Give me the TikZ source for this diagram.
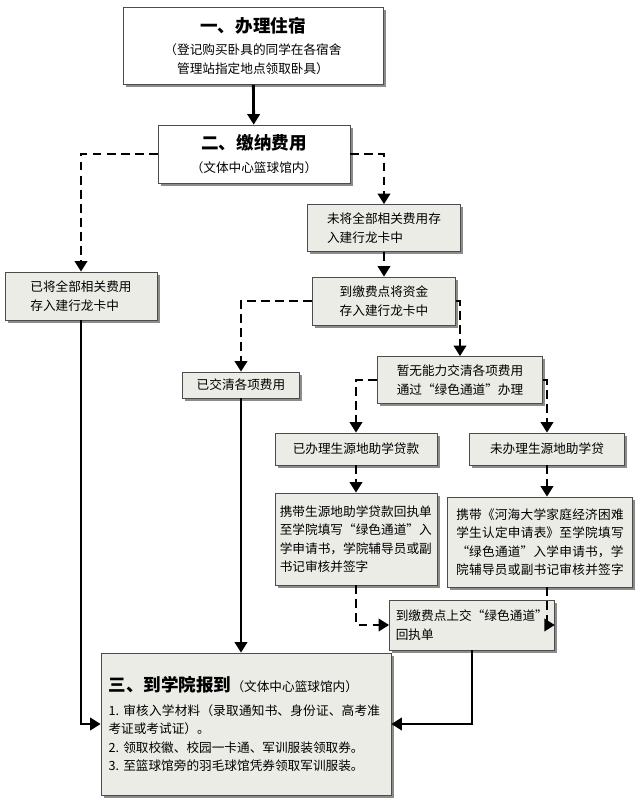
\documentclass[tikz,border=0pt]{standalone}
\usepackage{fontspec}
\setmainfont{Noto Sans CJK SC}
\XeTeXlinebreaklocale "zh"
\XeTeXlinebreakskip=0pt plus 1pt
\usetikzlibrary{arrows.meta, shadows}
\definecolor{boxgray}{HTML}{ECECE6}

\begin{document}
\begin{tikzpicture}[x=0.02cm, y=-0.02cm, font=\fontsize{7.2}{10.5}\selectfont,
	box/.style={draw=black!70, fill=boxgray, inner sep=2pt, align=center,
		drop shadow={shadow xshift=1.5pt, shadow yshift=-1.5pt, fill=black!45, opacity=1}},
	whitebox/.style={box, fill=white},
	flow/.style={-{Triangle[width=7pt,length=6pt]}, line width=1.6pt},
	dflow/.style={flow, dash pattern=on 5pt off 3pt}]

	\useasboundingbox (0,0) rectangle (640,809);

	\node [whitebox, minimum width=5.2cm, minimum height=1.54cm] (Stay) at (253,46)
		{{\fontsize{10}{13}\selectfont\bfseries 一、办理住宿}\\[2pt]（登记购买卧具的同学在各宿舍\\管理站指定地点领取卧具）};
	\node [whitebox, minimum width=3.84cm, minimum height=1.16cm] (Fee) at (254,154)
		{{\fontsize{10}{13}\selectfont\bfseries 二、缴纳费用}\\[3pt]（文体中心篮球馆内）};
	\node [box, minimum width=3.04cm, minimum height=0.96cm, align=left] (AllIn) at (81,296)
		{已将全部相关费用\\存入建行龙卡中};
	\node [box, minimum width=3.06cm, minimum height=0.94cm, align=left] (NotIn) at (384,228)
		{未将全部相关费用存\\入建行龙卡中};
	\node [box, minimum width=2.86cm, minimum height=0.96cm] (Bank) at (384,301)
		{到缴费点将资金\\存入建行龙卡中};
	\node [box, minimum width=2.34cm, minimum height=0.52cm] (Paid) at (241,385)
		{已交清各项费用};
	\node [box, minimum width=3.3cm, minimum height=0.94cm] (Green) at (460,380)
		{暂无能力交清各项费用\\通过“绿色通道”办理};
	\node [box, minimum width=3.24cm, minimum height=0.64cm] (Loan) at (356,449)
		{已办理生源地助学贷款};
	\node [box, minimum width=3.1cm, minimum height=0.64cm] (NoLoan) at (547,449)
		{未办理生源地助学贷};
	\node [box, minimum width=3.24cm, minimum height=1.84cm, text width=3.05cm, align=left] (LoanDoc) at (356,539)
		{携带生源地助学贷款回执单至学院填写“绿色通道”入学申请书，学院辅导员或副书记审核并签字};
	\node [box, minimum width=3.7cm, minimum height=1.8cm, text width=3.5cm] (NoLoanDoc) at (540,542)
		{携带《河海大学家庭经济困难学生认定申请表》至学院填写“绿色通道”入学申请书，学院辅导员或副书记审核并签字};
	\node [box, minimum width=3.3cm, minimum height=1cm, text width=3.05cm, align=left] (Receipt) at (472,625)
		{到缴费点上交“绿色通道”回执单};
	\node [box, minimum width=5.8cm, minimum height=2.84cm, text width=5.5cm, align=left] (Report) at (246,724)
		{{\fontsize{10}{13}\selectfont\bfseries 三、到学院报到}（文体中心篮球馆内）\\[3pt]
		1.~审核入学材料（录取通知书、身份证、高考准考证或考试证）。\\
		2.~领取校徽、校园一卡通、军训服装领取券。\\
		3.~至篮球馆旁的羽毛球馆凭券领取军训服装。};

	\draw [flow] (Stay) -- (Fee);
	\draw [dflow] (Fee.west) -| (AllIn.north);
	\draw [dflow] (Fee.east) -| (NotIn.north);
	\draw [dflow] (NotIn) -- (Bank);
	\draw [dflow] (Bank.west) -| (Paid.north);
	\draw [dflow] (Bank.east) -| (Green.north);
	\draw [dflow] (Green.west) -| (Loan.north);
	\draw [dflow] (Green.east) -| (NoLoan.north);
	\draw [dflow] (Loan) -- (LoanDoc);
	\draw [dflow] (NoLoan.south) -- (NoLoan.south |- NoLoanDoc.north);
	\draw [dflow] (LoanDoc.south) |- (Receipt.west);
	\draw [dflow] (NoLoan.south |- NoLoanDoc.south) |- (Receipt.east);
	\draw [flow] (Receipt.south) |- (Report.east);
	\draw [flow] (Paid.south) -- (Paid.south |- Report.north);
	\draw [flow] (AllIn.south) |- (Report.west);
\end{tikzpicture}
\end{document}
